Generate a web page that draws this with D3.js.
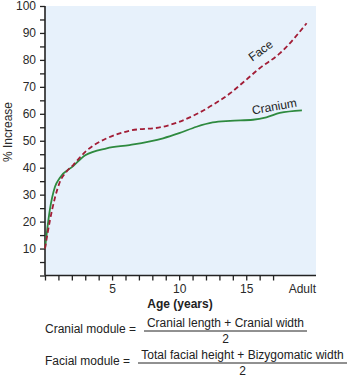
<!DOCTYPE html>
<html>
<head>
<meta charset="utf-8">
<script src="https://cdn.jsdelivr.net/npm/d3@7"></script>
<style>
  html, body { margin: 0; padding: 0; background: #fff; }
  svg { display: block; font-family: "Liberation Sans", Arial, Helvetica, sans-serif; }
</style>
</head>
<body>
<svg id="chart" width="348" height="377"></svg>
<script>
// Growth curves: percent of adult size reached by age (years)
const craniumAges   = [0, 0.35, 0.75, 1.1, 2.1, 3.0, 4.6, 6.3, 8.8, 10.0, 11.3, 12.5, 13.8, 15.5, 16.5, 17.5, 19.15];
const craniumValues = [10, 24, 33, 36.2, 40.6, 44.6, 47.2, 48.4, 50.9, 52.8, 55.2, 56.8, 57.4, 57.8, 58.7, 60.3, 61.3];

const faceAges   = [0, 0.37, 0.75, 1.1, 1.6, 2.1, 3.0, 4.6, 6.3, 8.8, 10.0, 11.3, 12.5, 13.8, 14.55, 16.0, 17.5, 19.5];
const faceValues = [10, 20.5, 29, 34.6, 38.5, 41, 45.9, 50.9, 53.7, 55.2, 57.0, 59.9, 63.3, 67.6, 70.7, 76.9, 82.4, 93.6];

const yMajorTicks = [10, 20, 30, 40, 50, 60, 70, 80, 90, 100];
const xLabelTicks = [5, 10, 15];
const adultLabel = "Adult";

const formulaNames        = ["Cranial module =", "Facial module ="];
const formulaNumerators   = ["Cranial length + Cranial width", "Total facial height + Bizygomatic width"];
const formulaDenominators = ["2", "2"];

const svg = d3.select("#chart");
const plotLeft = 45, plotRight = 316, plotTop = 6, plotBottom = 275.5;

const x = d3.scaleLinear().domain([0, 20.2]).range([plotLeft, plotRight]);
const y = d3.scaleLinear().domain([0, 100]).range([plotBottom, plotTop]);

// plot background
svg.append("rect")
  .attr("x", plotLeft).attr("y", plotTop)
  .attr("width", plotRight - plotLeft).attr("height", plotBottom - plotTop)
  .attr("fill", "#e7f1fb");

const axisColor = "#222";

// y axis
const yAxis = d3.axisLeft(y)
  .tickValues(d3.range(0, 101, 5))
  .tickSize(5)
  .tickPadding(4)
  .tickFormat(d => yMajorTicks.includes(d) ? d : "");
const gy = svg.append("g").attr("transform", `translate(${plotLeft},0)`).call(yAxis);

// x axis
const xAxis = d3.axisBottom(x)
  .tickValues(d3.range(0, 18, 1))
  .tickSize(5)
  .tickPadding(4)
  .tickFormat(d => xLabelTicks.includes(d) ? d : "");
const gx = svg.append("g").attr("transform", `translate(0,${plotBottom})`).call(xAxis);

[gx, gy].forEach(g => {
  g.select(".domain").attr("stroke", axisColor).attr("stroke-width", 1.6);
  g.selectAll(".tick line").attr("stroke", axisColor).attr("stroke-width", 1.3);
  g.selectAll(".tick text").attr("fill", "#2a2a2a").style("font-size", "12px")
    .style("font-family", "'Liberation Sans', Arial, sans-serif");
});
gx.select(".domain").attr("d", `M${plotLeft},0H${plotRight}`);
gy.select(".domain").attr("d", `M0,${plotBottom}V${plotTop}`);

svg.append("text")
  .attr("x", plotRight).attr("y", plotBottom + 17)
  .attr("text-anchor", "end")
  .attr("fill", "#2a2a2a").style("font-size", "12px")
  .text(adultLabel);

// axis titles
svg.append("text")
  .attr("x", 180).attr("y", 308)
  .attr("text-anchor", "middle")
  .attr("font-weight", "bold")
  .attr("fill", "#222").style("font-size", "12px")
  .text("Age (years)");

svg.append("text")
  .attr("transform", "translate(12,132) rotate(-90)")
  .attr("text-anchor", "middle")
  .attr("fill", "#2a2a2a").style("font-size", "12px")
  .text("% Increase");

// curves
const line = d3.line()
  .x(d => x(d[0]))
  .y(d => y(d[1]))
  .curve(d3.curveMonotoneX);

svg.append("path")
  .datum(d3.zip(craniumAges, craniumValues))
  .attr("d", line)
  .attr("fill", "none")
  .attr("stroke", "#2e8a3f")
  .attr("stroke-width", 1.8);

svg.append("path")
  .datum(d3.zip(faceAges, faceValues))
  .attr("d", line)
  .attr("fill", "none")
  .attr("stroke", "#a21d36")
  .attr("stroke-width", 1.8)
  .attr("stroke-dasharray", "5,3");

// curve labels
svg.append("text")
  .attr("transform", "translate(263,54) rotate(-36)")
  .attr("text-anchor", "middle")
  .attr("fill", "#222").style("font-size", "12px")
  .text("Face");

svg.append("text")
  .attr("transform", "translate(275,110.5) rotate(-10)")
  .attr("text-anchor", "middle")
  .attr("fill", "#222").style("font-size", "12px")
  .text("Cranium");

// module formulas
const rows = [
  { nameY: 333, numY: 327, lineY: 331, denY: 343, fracX0: 144, fracX1: 307 },
  { nameY: 365, numY: 359, lineY: 363, denY: 375, fracX0: 138, fracX1: 347 }
];
rows.forEach((r, i) => {
  const g = svg.append("g").attr("fill", "#222").style("font-size", "12px");
  g.append("text").attr("x", 45).attr("y", r.nameY).text(formulaNames[i]);
  const cx = (r.fracX0 + r.fracX1) / 2;
  g.append("text").attr("x", cx).attr("y", r.numY).attr("text-anchor", "middle").text(formulaNumerators[i]);
  g.append("line")
    .attr("x1", r.fracX0).attr("x2", r.fracX1)
    .attr("y1", r.lineY).attr("y2", r.lineY)
    .attr("stroke", "#222").attr("stroke-width", 1);
  g.append("text").attr("x", cx).attr("y", r.denY).attr("text-anchor", "middle").text(formulaDenominators[i]);
});
</script>
</body>
</html>
